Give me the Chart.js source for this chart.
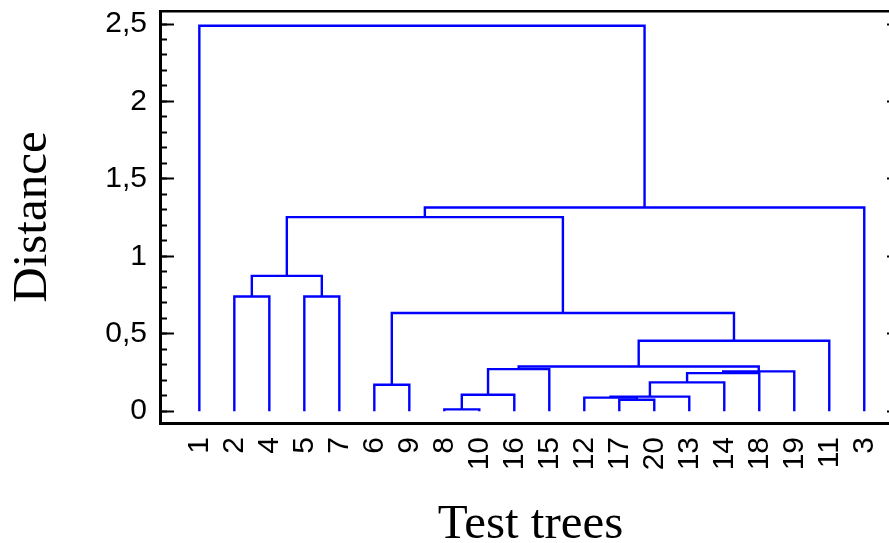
<!DOCTYPE html>
<html><head><meta charset="utf-8">
<script src="https://cdn.jsdelivr.net/npm/chart.js@4/dist/chart.umd.min.js"></script>
<style>html,body{margin:0;padding:0;overflow:hidden;background:#fff}#wrap{width:905px;height:543px;position:relative}</style>
</head><body><div id="wrap"><canvas id="c"></canvas></div>
<script>
// Leaf order along the x axis (test tree numbers)
const leafLabels = ['1','2','4','5','7','6','9','8','10','16','15','12','17','20','13','14','18','19','11','3'];
// Merge steps: left child, right child ('#k' = result of merge k), linkage distance
const mergeLeft   = ['8','17','12','#2','#0','6','#3','#6','#7','#4','#9','#10','#5','2','5','#13','#15','#16','1'];
const mergeRight  = ['10','20','#1','13','16','9','14','18','19','15','#8','11','#11','4','7','#14','#12','3','#17'];
const mergeHeight = [0.012,0.074,0.088,0.094,0.106,0.171,0.186,0.246,0.257,0.272,0.289,0.455,0.634,0.741,0.741,0.874,1.253,1.315,2.489];
// Axis ticks
const yTickValues = [0, 0.5, 1, 1.5, 2, 2.5];
const yMinorTickValues = [0,0.1,0.2,0.3,0.4,0.5,0.6,0.7,0.8,0.9,1,1.1,1.2,1.3,1.4,1.5,1.6,1.7,1.8,1.9,2,2.1,2.2,2.3,2.4,2.5];

const Y_MIN = -0.076, Y_MAX = 2.584, X_MIN = -1.124, X_MAX = 20.05;

function nodePos(ref) {
  if (ref[0] === '#') {
    const k = +ref.slice(1);
    const a = nodePos(mergeLeft[k]), b = nodePos(mergeRight[k]);
    return {x: (a.x + b.x) / 2, y: mergeHeight[k]};
  }
  return {x: leafLabels.indexOf(ref), y: 0};
}

const datasets = mergeHeight.map((h, k) => {
  const a = nodePos(mergeLeft[k]), b = nodePos(mergeRight[k]);
  return {
    data: [{x: a.x, y: a.y}, {x: a.x, y: h}, {x: b.x, y: h}, {x: b.x, y: b.y}],
    borderColor: '#0000ff', borderWidth: 2.4, pointRadius: 0, tension: 0, fill: false,
    borderJoinStyle: 'miter', borderCapStyle: 'butt'
  };
});

const tickFont = {family: "'Liberation Sans', Arial, sans-serif", size: 30};
const fixTicks = vals => s => { s.ticks = vals.map(v => ({value: v})); };
// fixed box sizes, no automatic label padding
const fitSize = (w, h) => s => {
  if (w !== null) s.width = w;
  if (h !== null) s.height = h;
  s.paddingTop = s.paddingBottom = s.paddingLeft = s.paddingRight = 0;
};

new Chart(document.getElementById('c'), {
  type: 'line',
  data: {datasets},
  options: {
    responsive: true, maintainAspectRatio: false, animation: false,
    layout: {padding: 0, autoPadding: false},
    plugins: {legend: {display: false}, tooltip: {enabled: false}},
    scales: {
      x: {
        type: 'linear', position: 'bottom', min: X_MIN, max: X_MAX,
        afterBuildTicks: fixTicks(leafLabels.map((_, i) => i)),
        afterFit: fitSize(null, 120),
        grid: {display: false},
        border: {display: true, color: '#000', width: 3},
        ticks: {autoSkip: false, minRotation: 90, maxRotation: 90, padding: 6, color: '#000', font: tickFont,
                callback: (v, i) => leafLabels[i]},
        title: {display: true, text: 'Test trees', color: '#000',
                font: {family: 'Liberation Serif', size: 49, lineHeight: 0.75}, padding: {top: 0, bottom: 0}}
      },
      xTop: {
        type: 'linear', position: 'top', min: X_MIN, max: X_MAX,
        afterBuildTicks: fixTicks([]),
        afterFit: fitSize(null, 11),
        grid: {display: false}, ticks: {display: false},
        border: {display: true, color: '#000', width: 2.5}
      },
      y: {
        type: 'linear', position: 'left', weight: 1, min: Y_MIN, max: Y_MAX,
        afterBuildTicks: fixTicks(yTickValues),
        afterFit: fitSize(160, null),
        grid: {drawOnChartArea: false, drawTicks: true, tickLength: -14, tickWidth: 2, tickColor: '#000'},
        border: {display: true, color: '#000', width: 3},
        ticks: {padding: 27, color: '#000', font: tickFont, callback: v => String(v).replace('.', ',')},
        title: {display: true, text: 'Distance', color: '#000',
                font: {family: 'Liberation Serif', size: 49, lineHeight: 1}, padding: {top: 9, bottom: 0}}
      },
      yMinor: {
        type: 'linear', position: 'left', weight: 0, min: Y_MIN, max: Y_MAX,
        afterBuildTicks: fixTicks(yMinorTickValues),
        afterFit: fitSize(0, null),
        grid: {drawOnChartArea: false, drawTicks: true, tickLength: -7, tickWidth: 2, tickColor: '#000'},
        border: {display: false}, ticks: {display: false}
      },
      yRight: {
        type: 'linear', position: 'right', min: Y_MIN, max: Y_MAX,
        afterBuildTicks: fixTicks(yTickValues),
        afterFit: fitSize(4, null),
        grid: {drawOnChartArea: false, drawTicks: true, tickLength: -14, tickWidth: 2, tickColor: '#000'},
        border: {display: true, color: '#000', width: 3}, ticks: {display: false}
      }
    }
  }
});
</script></body></html>
